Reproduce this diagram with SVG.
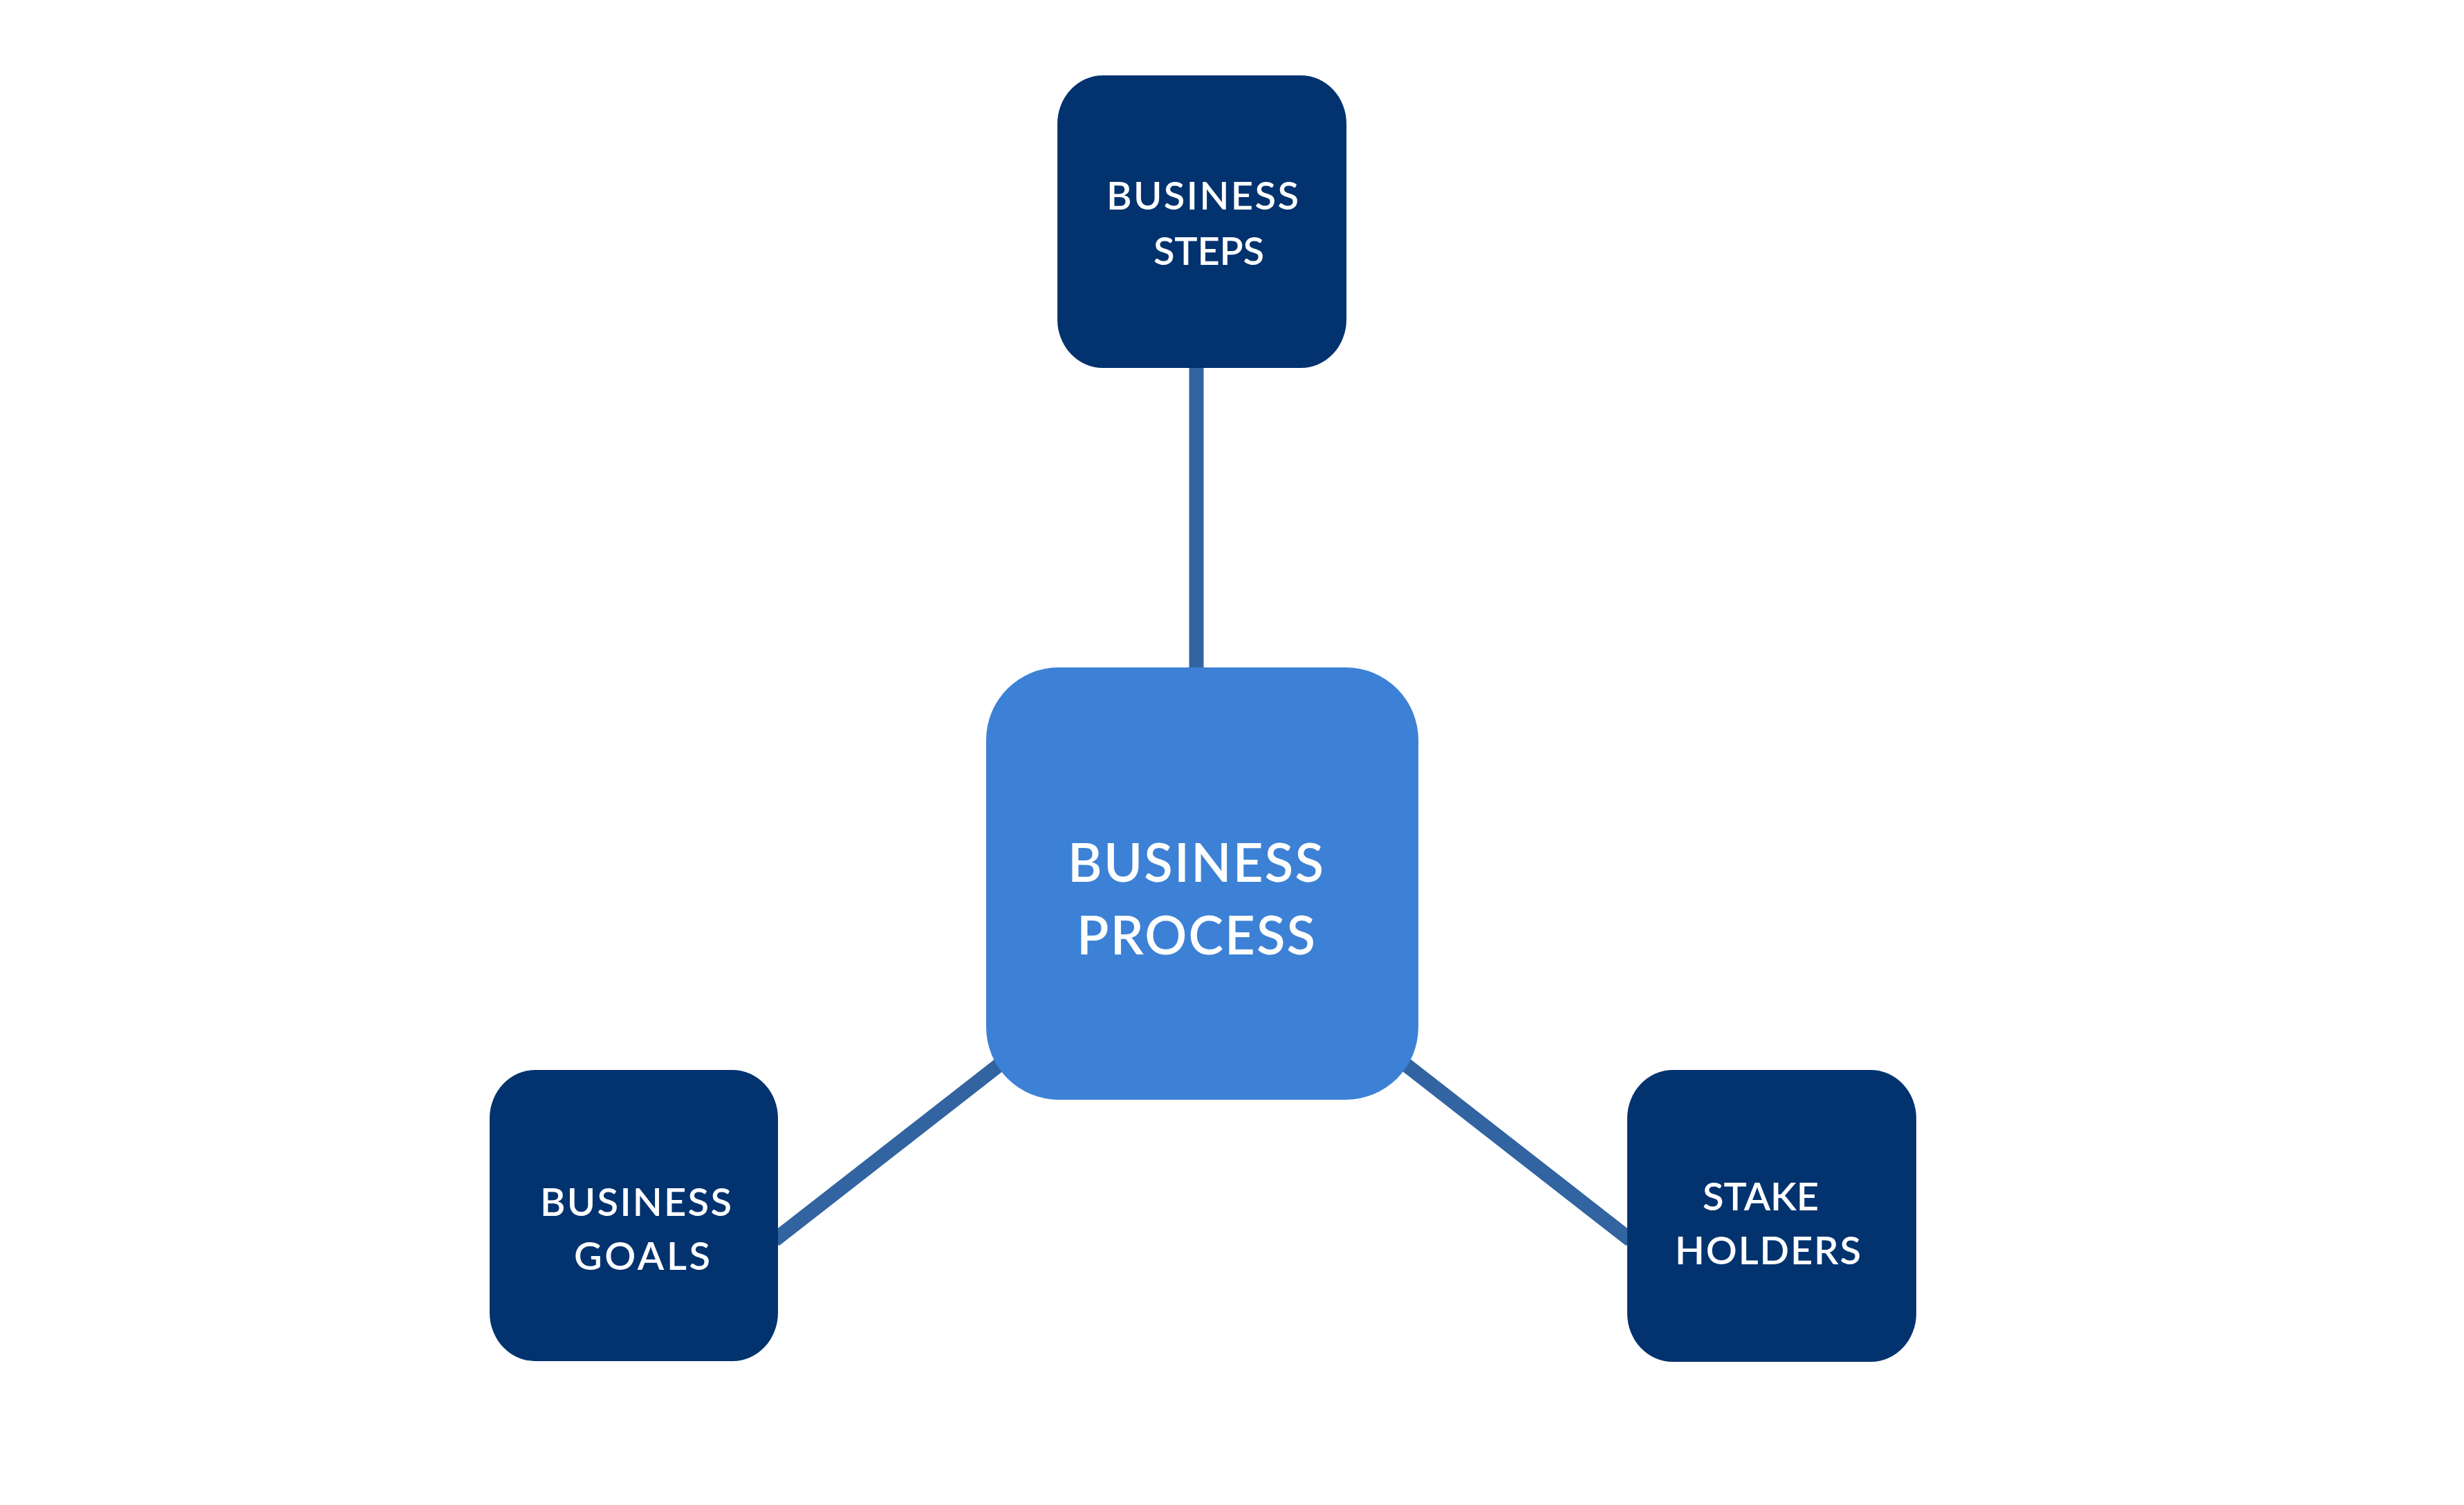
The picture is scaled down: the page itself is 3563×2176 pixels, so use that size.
<svg xmlns="http://www.w3.org/2000/svg" width="3563" height="2176" viewBox="0 0 3563 2176">
  <style>
    .bg { fill: #ffffff; }
    .edge { stroke: #3164A0; stroke-width: 21; fill: none; stroke-linecap: butt; }
    .dark { fill: #02336F; }
    .main { fill: #3C81D5; }
    .lbl { font-family: Lato, "Noto Sans", "Liberation Sans", sans-serif; fill: #ffffff; font-weight: 600; }
    .sm { font-size: 56px; }
    .lg { font-size: 76px; }
  </style>
  <rect class="bg" x="0" y="0" width="3563" height="2176"/>
  <g id="connectors">
    <line class="edge" x1="1730" y1="520" x2="1730" y2="980"/>
    <line class="edge" x1="1120" y1="1793" x2="1447" y2="1538"/>
    <line class="edge" x1="2031" y1="1538" x2="2358" y2="1793"/>
  </g>
  <g id="node-business-steps">
    <rect class="dark" x="1529" y="109" width="418" height="423" rx="66" ry="70"/>
    <text class="lbl sm" x="1600" y="303" textLength="278" lengthAdjust="spacing">BUSINESS</text>
    <text class="lbl sm" x="1668" y="383" textLength="160" lengthAdjust="spacing">STEPS</text>
  </g>
  <g id="node-business-process">
    <rect class="main" x="1426" y="965" width="625" height="625" rx="105" ry="105"/>
    <text class="lbl lg" x="1544" y="1275" textLength="370" lengthAdjust="spacing">BUSINESS</text>
    <text class="lbl lg" x="1557" y="1380" textLength="345" lengthAdjust="spacing">PROCESS</text>
  </g>
  <g id="node-business-goals">
    <rect class="dark" x="708" y="1547" width="417" height="421" rx="66" ry="70"/>
    <text class="lbl sm" x="781" y="1758" textLength="277" lengthAdjust="spacing">BUSINESS</text>
    <text class="lbl sm" x="830" y="1836" textLength="197" lengthAdjust="spacing">GOALS</text>
  </g>
  <g id="node-stake-holders">
    <rect class="dark" x="2353" y="1547" width="418" height="422" rx="66" ry="70"/>
    <text class="lbl sm" x="2462" y="1750" textLength="168" lengthAdjust="spacing">STAKE</text>
    <text class="lbl sm" x="2422" y="1828" textLength="269" lengthAdjust="spacing">HOLDERS</text>
  </g>
</svg>
